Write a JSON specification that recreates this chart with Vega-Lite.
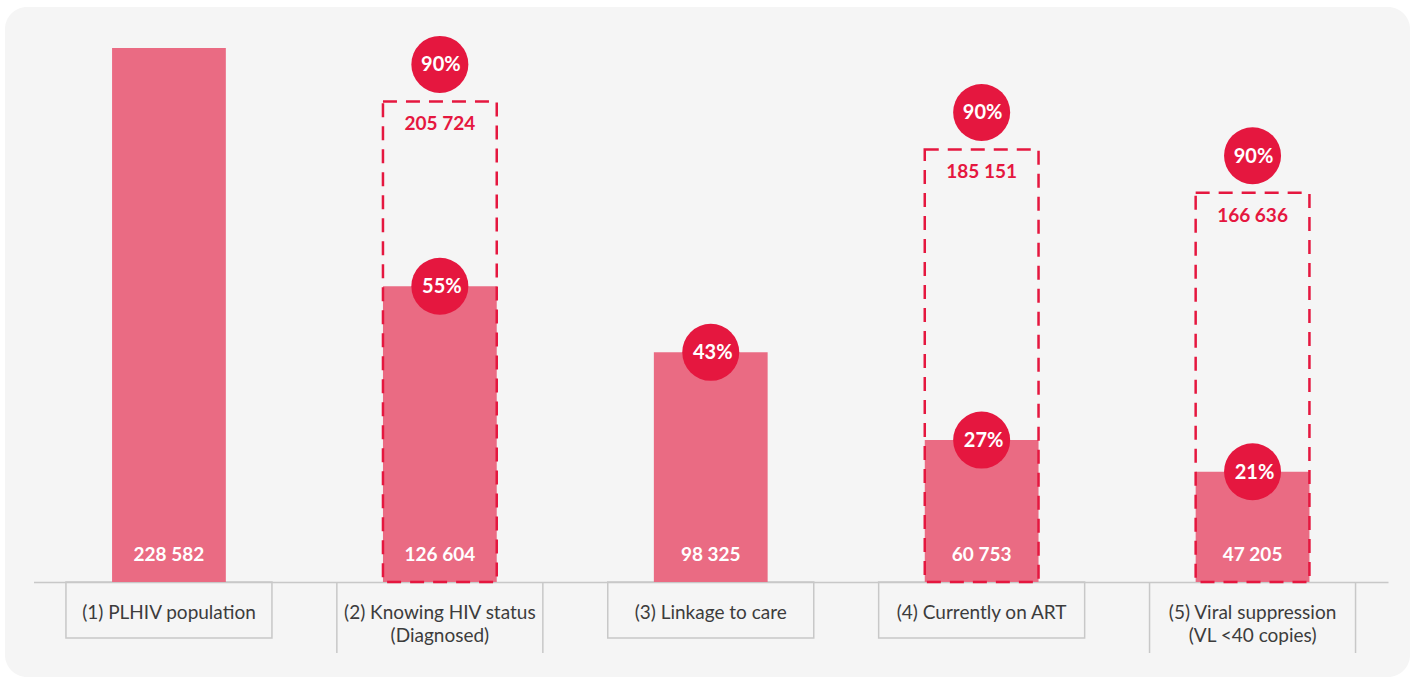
{
  "$schema": "https://vega.github.io/schema/vega-lite/v6.json",
  "autosize": {"type": "fit", "contains": "padding"},
  "width": 1415,
  "height": 677,
  "padding": {"left": 5, "top": 7, "right": 5, "bottom": 0},
  "background": "white",
  "config": {
    "view": {"fill": "#f5f5f5", "stroke": null, "cornerRadius": 22},
    "locale": {"number": {"decimal": ".", "thousands": " ", "grouping": [3], "currency": ["", ""]}},
    "font": "Lato"
  },
  "data": {
    "values": [
      {"stage": "(1) PLHIV population", "value": 228582, "pct": null, "target": null, "targetPct": null},
      {"stage": "(2) Knowing HIV status\n(Diagnosed)", "value": 126604, "pct": 0.55, "target": 205724, "targetPct": 0.9},
      {"stage": "(3) Linkage to care", "value": 98325, "pct": 0.43, "target": null, "targetPct": null},
      {"stage": "(4) Currently on ART", "value": 60753, "pct": 0.27, "target": 185151, "targetPct": 0.9},
      {"stage": "(5) Viral suppression\n(VL <40 copies)", "value": 47205, "pct": 0.21, "target": 166636, "targetPct": 0.9}
    ]
  },
  "encoding": {
    "x": {
      "field": "stage", "type": "nominal",
      "sort": ["(1) PLHIV population", "(2) Knowing HIV status\n(Diagnosed)", "(3) Linkage to care", "(4) Currently on ART", "(5) Viral suppression\n(VL <40 copies)"],
      "scale": {"range": [28.5, 1383], "paddingInner": 0.58, "paddingOuter": 0.29},
      "axis": {"orient": "bottom", "offset": -95, "labels": false, "ticks": false, "title": null, "grid": false, "domainColor": "#c8c8c8", "domainWidth": 1.5}
    }
  },
  "layer": [
    {
      "transform": [{"filter": "!test(/\\n/, datum.stage)"}],
      "mark": {"type": "bar", "width": 206, "fill": "transparent", "stroke": "#c8c8c8", "strokeWidth": 1.5, "y2Offset": 56},
      "encoding": {
        "y": {"datum": 0, "type": "quantitative", "axis": null, "scale": {"domain": [0, 228582], "range": [575, 41], "zero": false, "nice": false}},
        "y2": {"datum": 0}
      }
    },
    {
      "transform": [{"filter": "test(/\\n/, datum.stage)"}],
      "mark": {"type": "rule", "stroke": "#c8c8c8", "strokeWidth": 1.5, "xOffset": -103, "y2Offset": 71},
      "encoding": {
        "y": {"datum": 0, "type": "quantitative", "axis": null},
        "y2": {"datum": 0}
      }
    },
    {
      "transform": [{"filter": "test(/\\n/, datum.stage)"}],
      "mark": {"type": "rule", "stroke": "#c8c8c8", "strokeWidth": 1.5, "xOffset": 103, "y2Offset": 71},
      "encoding": {
        "y": {"datum": 0, "type": "quantitative", "axis": null},
        "y2": {"datum": 0}
      }
    },
    {
      "mark": {"type": "text", "font": "Lato", "fontSize": 19, "fill": "#3c3c3c", "align": "center", "baseline": "alphabetic", "dy": 37, "lineBreak": "\n", "lineHeight": 23},
      "encoding": {
        "y": {"datum": 0, "type": "quantitative", "axis": null},
        "text": {"field": "stage"}
      }
    },
    {
      "mark": {"type": "bar", "fill": "#ea6b83"},
      "encoding": {
        "y": {"field": "value", "type": "quantitative", "stack": null, "axis": null}
      }
    },
    {
      "transform": [{"filter": "datum.target != null"}],
      "mark": {"type": "bar", "fill": "transparent", "stroke": "#e5173f", "strokeWidth": 2.5, "strokeDash": [14, 9]},
      "encoding": {
        "y": {"field": "target", "type": "quantitative", "stack": null, "axis": null}
      }
    },
    {
      "transform": [{"filter": "datum.pct != null"}],
      "mark": {"type": "point", "filled": true, "shape": "circle", "size": 3250, "fill": "#e5173f", "opacity": 1, "strokeWidth": 0},
      "encoding": {
        "y": {"field": "value", "type": "quantitative", "axis": null}
      }
    },
    {
      "transform": [{"filter": "datum.pct != null"}],
      "mark": {"type": "text", "font": "Lato", "fontSize": 20, "fontWeight": "bold", "fill": "white", "align": "center", "baseline": "middle", "dx": 2, "dy": 1},
      "encoding": {
        "y": {"field": "value", "type": "quantitative", "axis": null},
        "text": {"field": "pct", "format": ".0%"}
      }
    },
    {
      "transform": [{"filter": "datum.target != null"}],
      "mark": {"type": "point", "filled": true, "shape": "circle", "size": 3250, "fill": "#e5173f", "opacity": 1, "strokeWidth": 0, "yOffset": -37},
      "encoding": {
        "y": {"field": "target", "type": "quantitative", "axis": null}
      }
    },
    {
      "transform": [{"filter": "datum.target != null"}],
      "mark": {"type": "text", "font": "Lato", "fontSize": 20, "fontWeight": "bold", "fill": "white", "align": "center", "baseline": "middle", "dx": 1, "dy": -36},
      "encoding": {
        "y": {"field": "target", "type": "quantitative", "axis": null},
        "text": {"field": "targetPct", "format": ".0%"}
      }
    },
    {
      "transform": [{"filter": "datum.target != null"}],
      "mark": {"type": "text", "font": "Lato", "fontSize": 19, "fontWeight": "bold", "fill": "#e5173f", "align": "center", "baseline": "alphabetic", "dy": 29},
      "encoding": {
        "y": {"field": "target", "type": "quantitative", "axis": null},
        "text": {"field": "target", "format": ",d"}
      }
    },
    {
      "mark": {"type": "text", "font": "Lato", "fontSize": 19, "fontWeight": "bold", "fill": "white", "align": "center", "baseline": "alphabetic", "dy": -21},
      "encoding": {
        "y": {"datum": 0, "type": "quantitative", "axis": null},
        "text": {"field": "value", "format": ",d"}
      }
    }
  ]
}
